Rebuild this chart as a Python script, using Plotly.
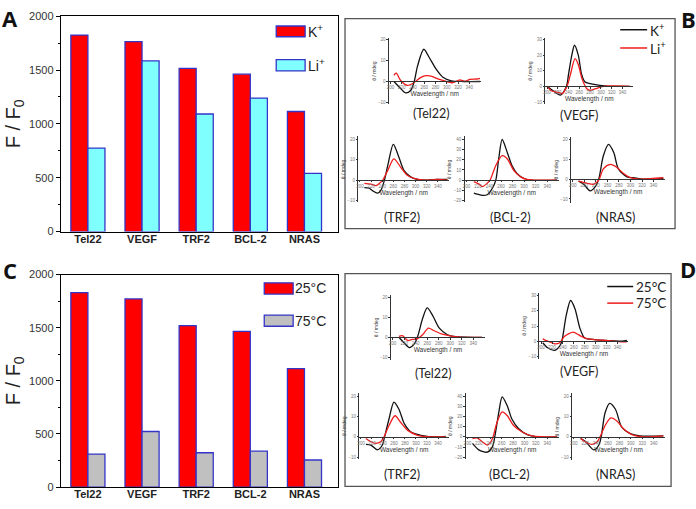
import plotly.graph_objects as go

W, H = 696, 509

# ---------------- bar data ----------------
genes = ["Tel22", "VEGF", "TRF2", "BCL-2", "NRAS"]
k_vals = [1825, 1765, 1515, 1462, 1115]
li_vals = [775, 1585, 1092, 1240, 540]
t25_vals = [1830, 1770, 1520, 1465, 1115]
t75_vals = [311, 523, 323, 338, 255]
bar_yticks = [0, 500, 1000, 1500, 2000]

# ---------------- CD spectra (wavelength nm, theta mdeg) ----------------
# Panel B: K+ (black) / Li+ (red)
b_tel22_k_wl = [206, 218, 227, 236, 242, 248, 259, 269, 281, 293, 308, 330, 359]
b_tel22_k_cd = [0, -3.4, -5.5, -4.2, 0, 7.5, 15.5, 11.4, 5.9, 2, 0.3, 0, 0]
b_tel22_li_wl = [206, 210, 218, 230, 239, 244, 254, 263, 272, 284, 299, 311, 323, 332, 341, 353, 359]
b_tel22_li_cd = [3, 4, 0.5, -1.9, -1, 0, 2, 2.8, 2.6, 1.2, 0, -0.6, 0.8, 0, 1, 1.2, 1.5]

b_vegf_k_wl = [200, 212, 225, 236, 240, 246, 251, 258, 264, 270, 280, 298, 317, 354]
b_vegf_k_cd = [0, -3, -5.6, 0, 8, 20, 26.3, 20, 8, 3, 1.7, 0.6, 0, 0]
b_vegf_li_wl = [200, 209, 222, 228, 237, 243, 252, 258, 265, 274, 280, 290, 305, 354]
b_vegf_li_cd = [0, -3, -4, -4.6, 0, 7, 17.7, 14, 4.8, -1.5, -2.5, -1.5, 0, 0]

b_trf2_k_wl = [208, 217, 223, 232, 238, 244, 250, 260, 270, 279, 291, 303, 321, 339, 357]
b_trf2_k_cd = [-3.7, -4, -5.3, -6.4, -4.8, 0, 7.2, 17.6, 11.2, 4.8, 1.6, 0.3, 0, 0.3, 0.3]
b_trf2_li_wl = [208, 220, 229, 235, 241, 250, 261, 273, 285, 297, 315, 339, 357]
b_trf2_li_cd = [-1.6, -2, -2.7, -1.6, 0, 4.8, 10.4, 6.4, 2.4, 0.8, 0, 0.3, 0]

b_bcl2_k_wl = [213, 219, 228, 236, 245, 251, 256, 262, 271, 279, 288, 300, 311, 357]
b_bcl2_k_cd = [-12.8, -13.8, -15, -14.4, -8, 0, 20.8, 40, 27, 14.4, 6.4, 1.6, 0, 0]
b_bcl2_li_wl = [213, 222, 228, 236, 241, 251, 262, 271, 282, 294, 305, 323, 357]
b_bcl2_li_cd = [-1.6, -4, -6.4, -3.2, 0, 14.4, 24, 20.8, 9.6, 3.2, 0.6, 0, 0]

b_nras_k_wl = [210, 219, 230, 239, 245, 253, 262, 271, 279, 294, 305, 323, 357]
b_nras_k_cd = [-1, -2.6, -5.9, -3.8, 0, 11.8, 17.5, 13.4, 5.2, 1.1, 0.7, 0, 0.3]
b_nras_li_wl = [210, 225, 236, 245, 253, 265, 276, 288, 300, 317, 357]
b_nras_li_cd = [-1, -2.1, -2.6, -0.5, 5.2, 7.4, 6, 2.8, 0.7, 0, 0.7]

# Panel D: 25 C (black) / 75 C (red)
d_tel22_25_wl = [211, 220, 229, 237, 243, 252, 260, 269, 281, 295, 309, 344, 355]
d_tel22_25_cd = [0, -2.8, -5.2, -3.6, 0, 9.5, 14.8, 11.2, 4.6, 1.3, 0.3, 0, 0]
d_tel22_75_wl = [211, 217, 226, 234, 243, 252, 262, 272, 286, 304, 321, 355]
d_tel22_75_cd = [0.5, 0.8, -1.6, -1.1, -0.7, 1.3, 4.6, 3.3, 1.6, 0.5, 0, 0]

d_vegf_25_wl = [203, 212, 225, 234, 238, 246, 254, 262, 271, 280, 298, 323, 348, 357]
d_vegf_25_cd = [-1, -4.3, -6, -3.2, 0, 17, 26.8, 21.4, 8.6, 2.1, 1.1, 0.4, 0, 0.6]
d_vegf_75_wl = [203, 212, 225, 234, 243, 259, 268, 280, 298, 323, 348, 357]
d_vegf_75_cd = [1.5, 0, -1.7, -1, 3.2, 6, 4.3, 2.1, 1.1, 0.4, -0.4, -0.4]

d_trf2_25_wl = [209, 218, 230, 239, 243, 251, 260, 269, 279, 291, 309, 339, 354]
d_trf2_25_cd = [-3.7, -4, -6.4, -4, 0, 8.8, 17.1, 13.6, 6.4, 2.4, 0.8, 0, 0.3]
d_trf2_75_wl = [209, 218, 227, 236, 242, 251, 262, 272, 285, 303, 327, 354]
d_trf2_75_cd = [-0.8, -2.4, -3.2, -2.4, 0, 5.6, 10.4, 7.2, 3.2, 0.8, 0, 0]

d_bcl2_25_wl = [209, 220, 235, 244, 248, 255, 261, 270, 278, 290, 305, 322, 357]
d_bcl2_25_cd = [-6.4, -12.8, -15, -9.6, 0, 24, 39.4, 30.4, 17.6, 8, 2.2, 0, 0]
d_bcl2_75_wl = [209, 217, 226, 235, 241, 245, 252, 261, 270, 281, 296, 313, 357]
d_bcl2_75_cd = [-1.6, -1, -4.8, -8, -4.8, 0, 14.4, 24.7, 20.8, 11.2, 4.8, 1, 0]

d_nras_25_wl = [212, 220, 235, 244, 248, 255, 263, 273, 284, 299, 316, 357]
d_nras_25_cd = [-0.8, -2.1, -6.4, -4, 0, 12, 16.5, 13.6, 4.8, 1.6, 0.5, 0.5]
d_nras_75_wl = [212, 220, 232, 241, 246, 255, 265, 276, 287, 302, 322, 357]
d_nras_75_cd = [-0.8, -2.4, -3.7, -2.4, 0, 5.6, 9.3, 7.7, 4, 1.1, 0, 0.5]

mini_ticks_x = [200, 220, 240, 260, 280, 300, 320, 340]


def px(x):
    return x / W


def py(y):
    return 1 - y / H


fig = go.Figure()
layout = dict(
    width=W, height=H, autosize=False,
    margin=dict(l=0, r=0, t=0, b=0),
    paper_bgcolor="white", plot_bgcolor="white",
    showlegend=False, barmode="group", bargap=0.37, bargroupgap=0,
    font=dict(family="Liberation Sans, Arial", color="#222"),
)

OUT = "#3434c8"

# ---------------- bar panels ----------------
fig.add_trace(go.Bar(x=genes, y=k_vals, name="K+", marker=dict(color="#ff0000", line=dict(color=OUT, width=1.3)),
                     xaxis="x", yaxis="y"))
fig.add_trace(go.Bar(x=genes, y=li_vals, name="Li+", marker=dict(color="#80ffff", line=dict(color=OUT, width=1.3)),
                     xaxis="x", yaxis="y"))
fig.add_trace(go.Bar(x=genes, y=t25_vals, name="25°C", marker=dict(color="#ff0000", line=dict(color=OUT, width=1.3)),
                     xaxis="x2", yaxis="y2"))
fig.add_trace(go.Bar(x=genes, y=t75_vals, name="75°C", marker=dict(color="#c0c0c0", line=dict(color=OUT, width=1.3)),
                     xaxis="x2", yaxis="y2"))


def bar_axes(xdom_px, ydom_px, xname, yname):
    xa = dict(domain=[px(xdom_px[0]), px(xdom_px[1])], anchor=yname, type="category",
              range=[-0.5, 4.62], showline=True, linecolor="black", linewidth=1.2, mirror=True,
              ticks="", showgrid=False, zeroline=False, ticklabelstandoff=-3,
              tickfont=dict(size=11, family="Liberation Sans, Arial", color="#222", weight="bold"))
    ya = dict(domain=[py(ydom_px[1]), py(ydom_px[0])], anchor=xname, range=[0, 2000],
              tickvals=bar_yticks, showline=True, linecolor="black", linewidth=1.2, mirror=True,
              ticks="outside", ticklen=4, tickcolor="black", showgrid=False, zeroline=False,
              minor=dict(dtick=250, tick0=0, ticks="outside", ticklen=2, tickcolor="black", showgrid=False),
              tickfont=dict(size=11, family="Liberation Sans, Arial", color="#333"),
              title=dict(text="F / F<sub>0</sub>", font=dict(size=20, family="Liberation Sans, Arial", color="#222"),
                         standoff=3))
    return xa, ya


layout["xaxis"], layout["yaxis"] = bar_axes((59, 337), (10.5, 231), "x", "y")
layout["xaxis2"], layout["yaxis2"] = bar_axes((59, 337), (275, 492.7), "x2", "y2")

shapes = []
annotations = []


def legend_patch(x0, x1, y0, y1, color, text, tx):
    shapes.append(dict(type="rect", xref="paper", yref="paper", x0=px(x0), x1=px(x1), y0=py(y1), y1=py(y0),
                       fillcolor=color, line=dict(color=OUT, width=1.3)))
    annotations.append(dict(xref="paper", yref="paper", x=px(tx), y=py((y0 + y1) / 2), text=text,
                            showarrow=False, xanchor="left", yanchor="middle",
                            font=dict(size=14, family="Liberation Sans, Arial", color="#222")))


legend_patch(275, 304, 20.5, 31.5, "#ff0000", "K<sup>+</sup>", 305)
legend_patch(275, 304, 55, 66.5, "#80ffff", "Li<sup>+</sup>", 305)
legend_patch(263, 292, 283.5, 295, "#ff0000", "25°C", 292)
legend_patch(263, 292, 316.5, 328, "#c0c0c0", "75°C", 292)

# ---------------- mini CD plots ----------------
minis = [
    # curves, L, R, y0, ppu, ymin, ymax, name label, label x, label y
    (b_tel22_k_wl, b_tel22_k_cd, b_tel22_li_wl, b_tel22_li_cd, 388, 480, 77.3, 2.13, -11, 21, "(Tel22)", 431, 110),
    (b_vegf_k_wl, b_vegf_k_cd, b_vegf_li_wl, b_vegf_li_cd, 545, 633, 82.3, 1.6, -11.5, 31, "(VEGF)", 579, 112.5),
    (b_trf2_k_wl, b_trf2_k_cd, b_trf2_li_wl, b_trf2_li_cd, 357.3, 448.3, 178.3, 2.083, -11, 21.5, "(TRF2)", 401.5, 216.5),
    (b_bcl2_k_wl, b_bcl2_k_cd, b_bcl2_li_wl, b_bcl2_li_cd, 464, 558.3, 178.3, 1.04, -22, 43, "(BCL-2)", 510, 216.5),
    (b_nras_k_wl, b_nras_k_cd, b_nras_li_wl, b_nras_li_cd, 570.7, 665, 177.3, 2.03, -12, 21.5, "(NRAS)", 615, 216.5),
    (d_tel22_25_wl, d_tel22_25_cd, d_tel22_75_wl, d_tel22_75_cd, 390, 484.3, 339.3, 2.03, -11.5, 21.5, "(Tel22)", 433, 376),
    (d_vegf_25_wl, d_vegf_25_cd, d_vegf_75_wl, d_vegf_75_cd, 539, 628.3, 343.3, 1.556, -11.5, 31.5, "(VEGF)", 579, 374),
    (d_trf2_25_wl, d_trf2_25_cd, d_trf2_75_wl, d_trf2_75_cd, 358.3, 448.3, 441.3, 2.083, -11, 21.5, "(TRF2)", 401.5, 480),
    (d_bcl2_25_wl, d_bcl2_25_cd, d_bcl2_75_wl, d_bcl2_75_cd, 465, 558.3, 441.3, 1.04, -22, 43, "(BCL-2)", 509, 480),
    (d_nras_25_wl, d_nras_25_cd, d_nras_75_wl, d_nras_75_cd, 571.7, 665, 441.3, 2.083, -11.5, 21.5, "(NRAS)", 615, 480),
]

for i, (kw, kc, lw, lc, L, R, y0, ppu, ymin, ymax, lab, lx, ly) in enumerate(minis):
    n = i + 3
    xn, yn = f"x{n}", f"y{n}"
    fig.add_trace(go.Scatter(x=kw, y=kc, mode="lines", line=dict(color="#111111", width=1.3, shape="spline", smoothing=0.8),
                             xaxis=xn, yaxis=yn))
    fig.add_trace(go.Scatter(x=lw, y=lc, mode="lines", line=dict(color="#ee1c1c", width=1.3, shape="spline", smoothing=0.8),
                             xaxis=xn, yaxis=yn))
    top = y0 - ymax * ppu
    bot = y0 - ymin * ppu
    layout[f"xaxis{n}"] = dict(domain=[px(L), px(R)], anchor="free", position=py(y0), range=[197, 360],
                               tickvals=mini_ticks_x, showline=True, linecolor="#333", linewidth=0.8,
                               ticks="outside", ticklen=1.5, tickwidth=0.6, tickcolor="#333",
                               tickfont=dict(size=4.5, color="#777"), showgrid=False, zeroline=False,
                               title=dict(text="Wavelength / nm", font=dict(size=6.5, color="#333"), standoff=2))
    layout[f"yaxis{n}"] = dict(domain=[py(bot), py(top)], anchor=xn, range=[ymin, ymax], dtick=10, tick0=0,
                               showline=True, linecolor="#333", linewidth=0.8,
                               ticks="outside", ticklen=1.5, tickwidth=0.6, tickcolor="#333",
                               tickfont=dict(size=4.5, color="#777"), showgrid=False, zeroline=False,
                               title=dict(text="θ / mdeg", font=dict(size=5, color="#444"), standoff=1))
    annotations.append(dict(xref="paper", yref="paper", x=px(lx), y=py(ly), text=lab, showarrow=False,
                            xanchor="center", yanchor="middle",
                            font=dict(size=12.5, family="Lato, Open Sans", color="#222")))

# frames around B and D
shapes.append(dict(type="rect", xref="paper", yref="paper", x0=px(344), x1=px(675), y0=py(228), y1=py(13),
                   line=dict(color="#555", width=1.3)))
shapes.append(dict(type="rect", xref="paper", yref="paper", x0=px(344), x1=px(671), y0=py(492), y1=py(274),
                   line=dict(color="#555", width=1.3)))


def line_legend(x0, x1, y, color, text):
    shapes.append(dict(type="line", xref="paper", yref="paper", x0=px(x0), x1=px(x1), y0=py(y), y1=py(y),
                       line=dict(color=color, width=1.5)))
    annotations.append(dict(xref="paper", yref="paper", x=px(x1 + 1), y=py(y), text=text, showarrow=False,
                            xanchor="left", yanchor="middle",
                            font=dict(size=13.5, family="Lato, Open Sans", color="#222")))


line_legend(620, 647, 24.3, "#111111", "K<sup>+</sup>")
line_legend(620, 647, 43, "#ee1c1c", "Li<sup>+</sup>")
line_legend(607, 633, 287.3, "#111111", "25°C")
line_legend(607, 633, 304.3, "#ee1c1c", "75°C")

# panel letters
for letter, lx, ly in [("A", 8, 12), ("B", 688, 13), ("C", 8, 270), ("D", 688, 269)]:
    annotations.append(dict(xref="paper", yref="paper", x=px(lx), y=py(ly), text=f"<b>{letter}</b>",
                            showarrow=False, xanchor="center", yanchor="middle",
                            font=dict(size=22, family="Open Sans, Liberation Sans", color="#111")))

layout["shapes"] = shapes
layout["annotations"] = annotations
fig.update_layout(**layout)
fig.write_html("out.html", config={"displayModeBar": False},
               post_script="document.body.style.margin='0px';")
